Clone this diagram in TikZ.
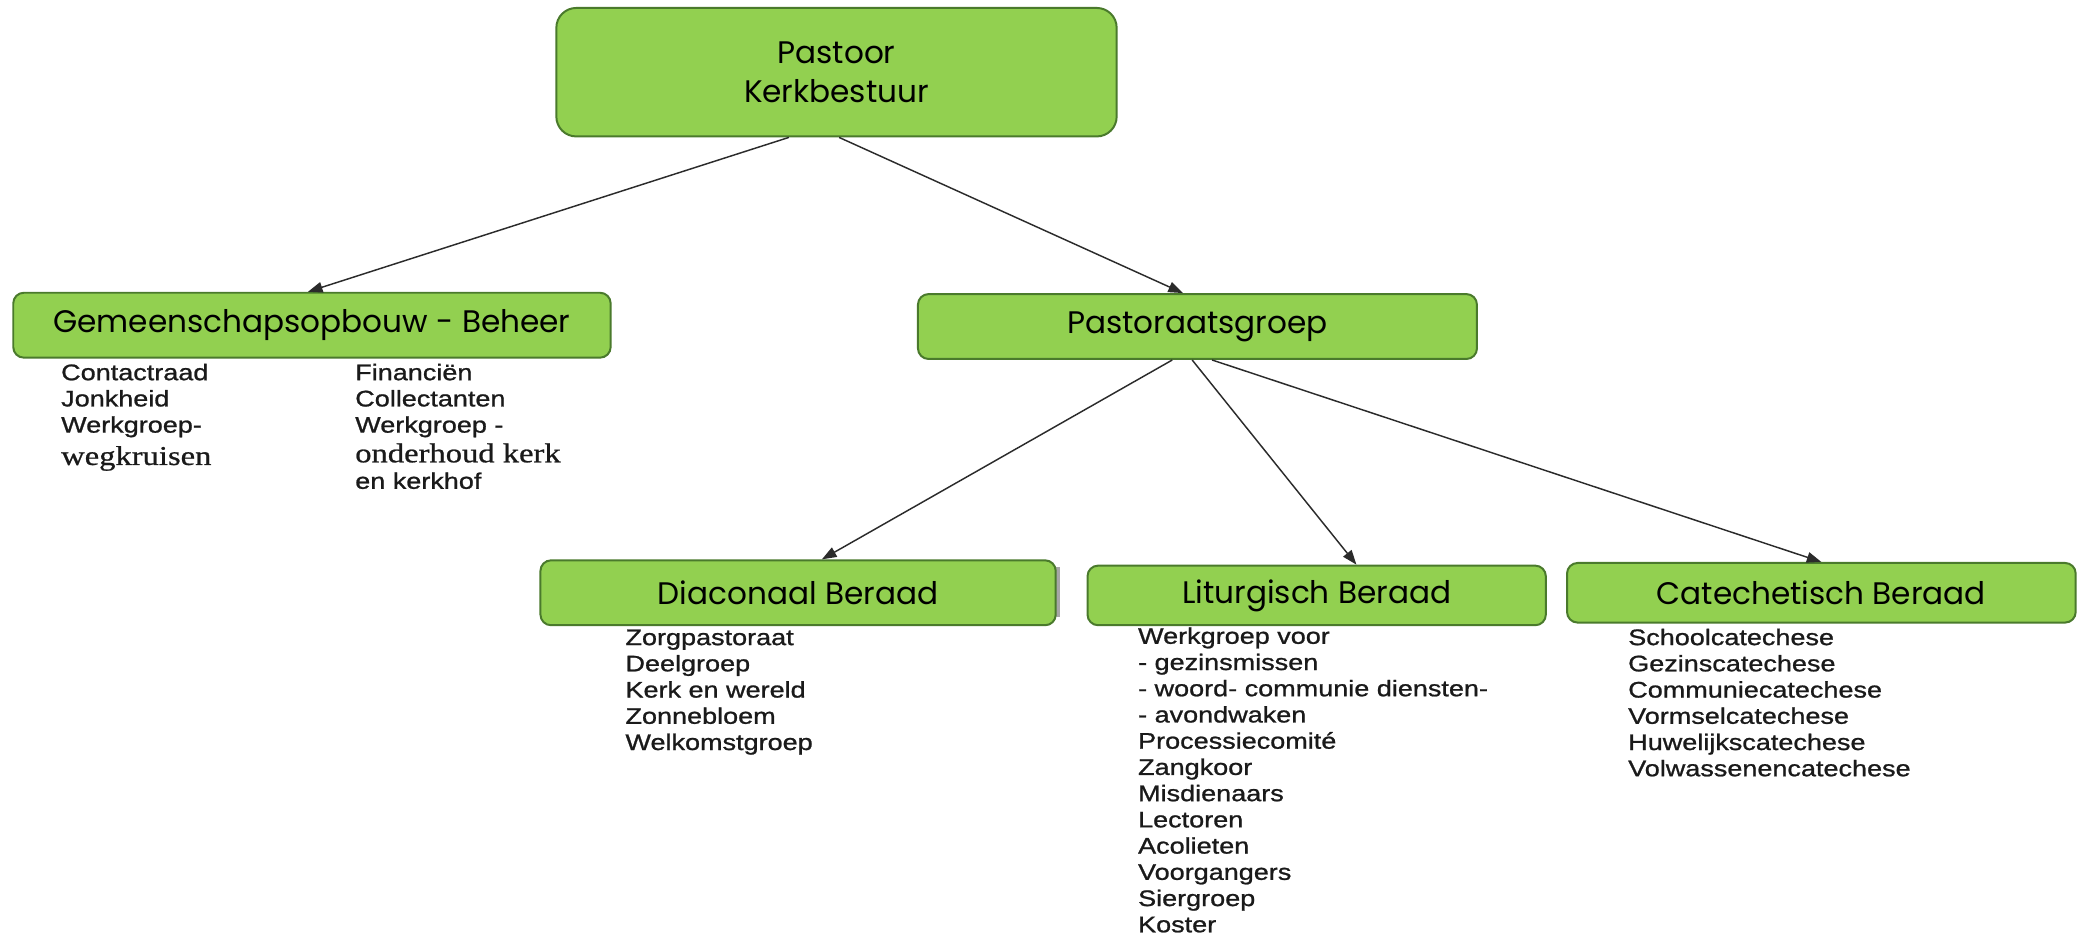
\documentclass[tikz,border=0pt]{standalone}
\usepackage{fontspec}
\setmainfont{Liberation Sans}
\newfontfamily\boxfont{Poppins}
\newfontfamily\listfont[FakeStretch=1.2,FakeBold=1]{Liberation Sans}
\newfontfamily\listserif[FakeStretch=1.2,FakeBold=0.8]{Liberation Serif}
\usetikzlibrary{arrows.meta}
\definecolor{boxgreen}{HTML}{92D050}
\definecolor{boxedge}{HTML}{4A7A2C}
\definecolor{arrowgray}{HTML}{2B2B2B}
\definecolor{listink}{HTML}{1A1A1A}
\begin{document}
\begin{tikzpicture}[x=1pt,y=-1pt,
  greenbox/.style={draw=boxedge, line width=1.5pt, fill=boxgreen, rounded corners=8pt,
    inner sep=0pt, text=black, align=center, font=\boxfont\fontsize{23.5}{30}\selectfont},
  link/.style={draw=arrowgray, line width=1.1pt, -{Triangle[length=11pt,width=8pt]}},
  listtext/.style={anchor=base west, align=left, inner sep=0pt, text=listink,
    font=\listfont\fontsize{17}{19.8}\selectfont},
  serifline/.style={anchor=base west, inner sep=0pt, text=listink,
    font=\listserif\fontsize{20.5}{22}\selectfont}]
\useasboundingbox (0,0) rectangle (1568,707.4);
\fill[white] (0,0) rectangle (1568,707.4);

% boxes
\node[greenbox, rounded corners=15pt, minimum width=423pt, minimum height=97pt]
  (pastoor) at (631.5,54.5) {Pastoor\\Kerkbestuur};
\node[greenbox, minimum width=451pt, minimum height=49pt]
  (gem) at (235.5,245.5) {Gemeenschapsopbouw - Beheer};
\node[greenbox, minimum width=422pt, minimum height=49pt]
  (past) at (904,246.5) {Pastoraatsgroep};
\fill[gray!70] (797,428) rectangle (800.5,466);
\node[greenbox, minimum width=389pt, minimum height=49pt]
  (diac) at (602.5,447.5) {Diaconaal Beraad};
\node[greenbox, minimum width=346pt, minimum height=45pt]
  (lit) at (994,449.5) {Liturgisch Beraad};
\node[greenbox, minimum width=384pt, minimum height=45pt]
  (cat) at (1375,447.5) {Catechetisch Beraad};

% connectors
\draw[link] ([xshift=-36pt]pastoor.south) -- ([xshift=-3pt]gem.north);
\draw[link] ([xshift=2pt]pastoor.south) -- ([xshift=-11pt]past.north);
\draw[link] ([xshift=-19pt]past.south) -- ([xshift=18pt]diac.north);
\draw[link] ([xshift=-4pt]past.south) -- ([xshift=30pt]lit.north);
\draw[link] ([xshift=11pt]past.south) -- (cat.north);

% lists (anchor = baseline of the last line)
\node[listtext] (gemA) at (46,326.6) {Contactraad\\Jonkheid\\Werkgroep-};
\node[serifline] (gemA2) at (46,351) {wegkruisen};
\node[listtext] (gemB) at (268,326.6) {Financiën\\Collectanten\\Werkgroep -};
\node[serifline] (gemB2) at (268,349) {onderhoud kerk};
\node[listtext] (gemB3) at (268,369) {en kerkhof};

\node[listtext] (diaclist) at (472,566.2)
  {Zorgpastoraat\\Deelgroep\\Kerk en wereld\\Zonnebloem\\Welkomstgroep};
\node[listtext] (litlist) at (859,703.8)
  {Werkgroep voor\\- gezinsmissen\\- woord- communie diensten-\\- avondwaken\\Processiecomité\\Zangkoor\\Misdienaars\\Lectoren\\Acolieten\\Voorgangers\\Siergroep\\Koster};
\node[listtext] (catlist) at (1229,586)
  {Schoolcatechese\\Gezinscatechese\\Communiecatechese\\Vormselcatechese\\Huwelijkscatechese\\Volwassenencatechese};
\end{tikzpicture}
\end{document}
